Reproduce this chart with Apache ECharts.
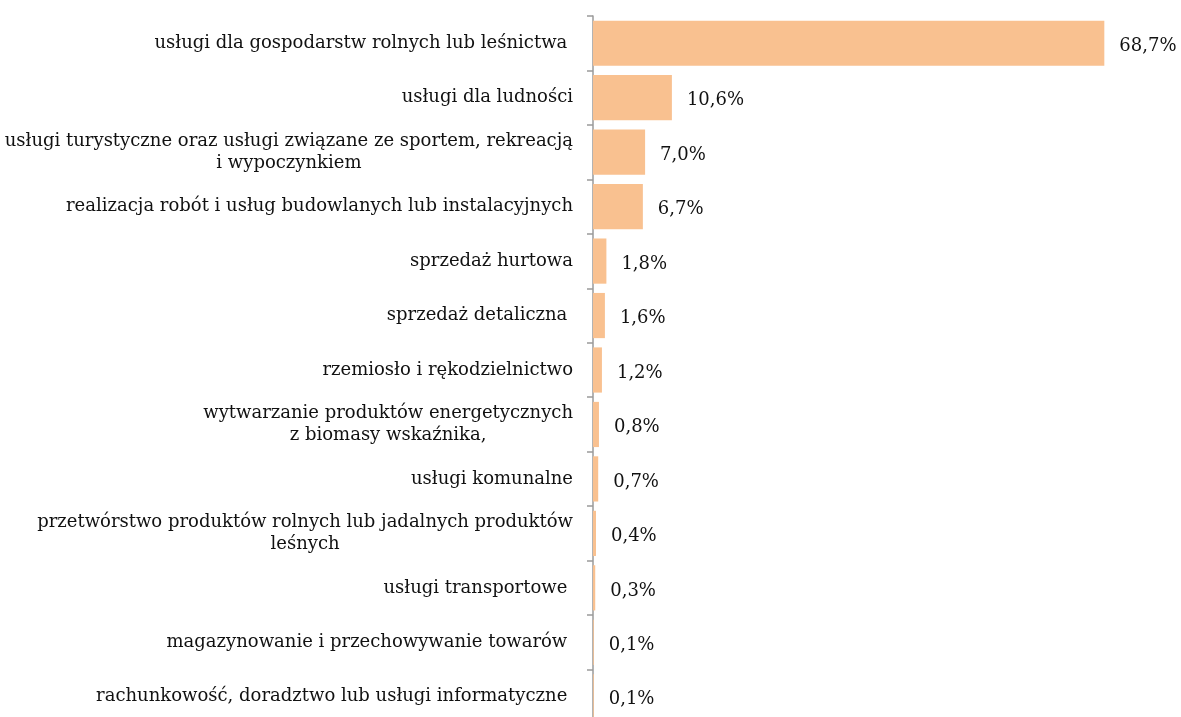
<!DOCTYPE html>
<html>
<head>
<meta charset="utf-8">
<script src="https://cdn.jsdelivr.net/npm/echarts@6/dist/echarts.min.js"></script>
<style>
  html, body { margin: 0; padding: 0; background: #fff; }
  #chart { width: 1181px; height: 717px; }
</style>
</head>
<body>
<div id="chart"></div>
<script>
// Rodzaje działalności – udział procentowy
const categories = [
  'usługi dla gospodarstw rolnych lub leśnictwa ',
  'usługi dla ludności',
  'usługi turystyczne oraz usługi związane ze sportem, rekreacją\ni wypoczynkiem',
  'realizacja robót i usług budowlanych lub instalacyjnych',
  'sprzedaż hurtowa',
  'sprzedaż detaliczna ',
  'rzemiosło i rękodzielnictwo',
  'wytwarzanie produktów energetycznych\nz biomasy wskaźnika,',
  'usługi komunalne',
  'przetwórstwo produktów rolnych lub jadalnych produktów\nleśnych',
  'usługi transportowe ',
  'magazynowanie i przechowywanie towarów ',
  'rachunkowość, doradztwo lub usługi informatyczne '
];
const shares = [68.7, 10.6, 7.0, 6.7, 1.8, 1.6, 1.2, 0.8, 0.7, 0.4, 0.3, 0.1, 0.1];

const FONT = 'DejaVu Serif';
const SIZE = 18;
const chart = echarts.init(document.getElementById('chart'));

chart.setOption({
  backgroundColor: '#fff',
  animation: false,
  // the category axis runs a little past the bottom edge of the canvas
  grid: {
    left: 593, width: 521, top: 16, height: 708,
    containLabel: false,
    outerBoundsMode: 'none'
  },
  xAxis: {
    type: 'value',
    min: 0,
    max: 70,
    show: false
  },
  yAxis: {
    type: 'category',
    inverse: true,
    data: categories,
    axisLine: { show: true, lineStyle: { color: '#9a9a9a', width: 1.5 } },
    axisTick: { show: true, length: 6, lineStyle: { color: '#9a9a9a', width: 1.5 } },
    axisLabel: {
      margin: 20,
      color: '#111',
      fontFamily: FONT,
      fontSize: SIZE,
      lineHeight: 22,
      formatter: function (v) {
        return v.split('\n').map(function (l) { return '{c|' + l + '}'; }).join('\n');
      },
      rich: {
        c: { align: 'center', fontFamily: FONT, fontSize: SIZE, lineHeight: 22, color: '#111' }
      }
    }
  },
  series: [{
    type: 'bar',
    data: shares,
    barCategoryGap: '17%',
    itemStyle: { color: '#F9C190' },
    label: {
      show: true,
      position: 'right',
      distance: 15,
      offset: [0, 3],
      color: '#111',
      fontFamily: FONT,
      fontSize: SIZE,
      formatter: function (p) { return p.value.toFixed(1).replace('.', ',') + '%'; }
    }
  }]
});
</script>
</body>
</html>
